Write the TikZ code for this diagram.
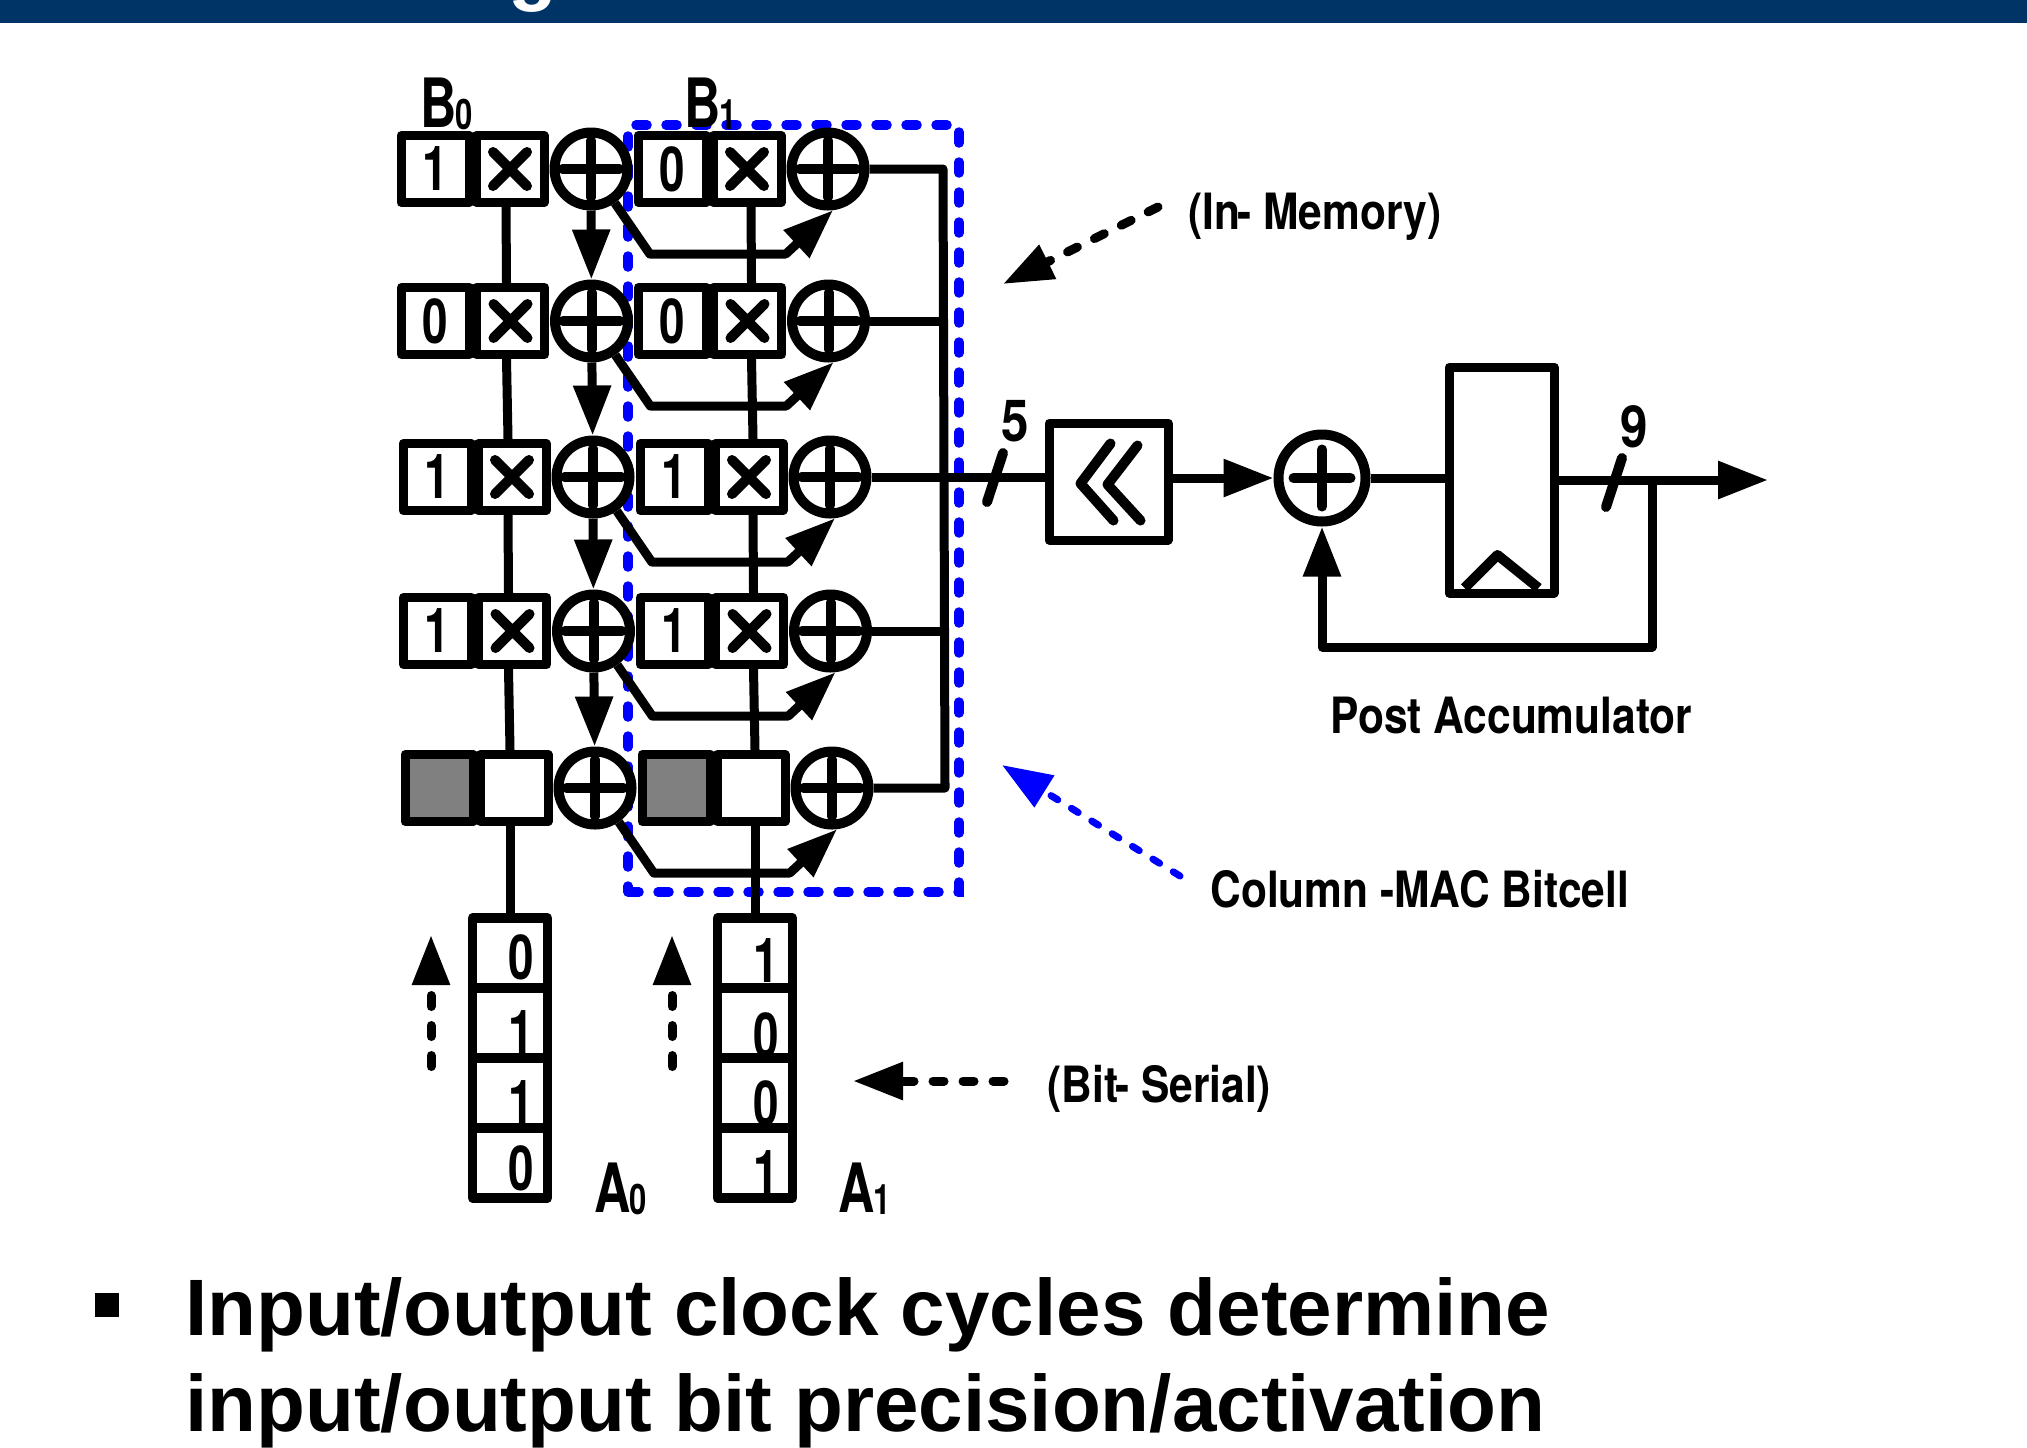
\documentclass[tikz,border=0pt]{standalone}
\usepackage{fontspec}
\usetikzlibrary{positioning}
\usetikzlibrary{arrows.meta}
\setmainfont{Liberation Sans}
\newfontfamily\narrowfont[FakeStretch=0.85]{TeX Gyre Heros}
\newfontfamily\bitfont[FakeStretch=0.74]{TeX Gyre Heros}
\newcommand{\sublabel}[2]{#1\kern-.8pt{\fontsize{21}{21}\selectfont\raisebox{-1pt}{#2}}}
\definecolor{bandblue}{RGB}{0,51,102}

\begin{document}
\begin{tikzpicture}[x=0.5pt,y=-0.5pt]
\tikzstyle{adder}=[circle, draw, fill=white, line width=5pt, minimum size=36.5pt, inner sep=0pt,
  path picture={\draw[line width=5pt, line cap=round] (path picture bounding box.center) +(-28.5,0) -- +(28.5,0) +(0,-28.5) -- +(0,28.5);}]
\tikzstyle{bitbox}=[rectangle, draw, fill=white, line width=4.5pt, line join=round, minimum width=34pt, minimum height=33.5pt, inner sep=0pt, font=\bitfont\bfseries\fontsize{31}{31}\selectfont]
\tikzstyle{crossbox}=[bitbox,
  path picture={\draw[line width=5pt, line cap=round] (path picture bounding box.center) +(-17,-17) -- +(17,17) +(-17,17) -- +(17,-17);}]
\tikzstyle{cell}=[rectangle, draw, line width=4.75pt, line join=round, minimum width=37.5pt, minimum height=35pt, inner sep=0pt, outer sep=0pt]
\tikzstyle{digit}=[inner sep=0pt, font=\bitfont\bfseries\fontsize{31}{31}\selectfont]
\tikzstyle{wordname}=[inner sep=0pt, anchor=base west, font=\bitfont\bfseries\fontsize{34}{34}\selectfont]
\tikzstyle{capt}=[inner sep=0pt, anchor=base west, font=\narrowfont\bfseries\fontsize{25}{25}\selectfont]
\tikzstyle{widthmark}=[inner sep=0pt, font=\narrowfont\bfseries\fontsize{29}{29}\selectfont]
\tikzstyle{bodytext}=[inner sep=0pt, anchor=base west, font=\bfseries\fontsize{40}{40}\selectfont]
\tikzstyle{wire}=[line width=4.5pt, line join=round]
\tikzstyle{slash}=[line width=5pt, line cap=round]
\tikzstyle{connect}=[wire, -{Triangle[length=25pt,width=18pt]}]
\tikzstyle{hint}=[line width=4.5pt, line cap=round, dash pattern=on 5.5pt off 9.5pt, -{Triangle[length=25pt,width=18pt]}]
\tikzstyle{bluehint}=[draw=blue, line width=3.5pt, line cap=round, dash pattern=on 4pt off 8pt, -{Triangle[length=25pt,width=18pt]}, blue]
\tikzstyle{macbox}=[rectangle, draw=blue, line width=4.75pt, line cap=round, dash pattern=on 5.5pt off 9.5pt, minimum width=165.5pt, minimum height=383.5pt]

\useasboundingbox (0,0) rectangle (2027,1447);
\fill[bandblue] (0,0) rectangle (2027,23);
\node[inner sep=0pt, anchor=base, text=white, font=\bfseries\fontsize{40}{40}\selectfont] (heading) at (533,-5) {g};

\node[macbox] (mac) at (793.5,508.5) {};

% first row
\node[bitbox] (p1) at (435,169) {1};
\node[crossbox, right=-1pt of p1] (m1) {};
\node[adder, right=0.5pt of m1] (a1) {};
\node[bitbox, right=0.5pt of a1] (q1) {0};
\node[crossbox, right=-1pt of q1] (n1) {};
\node[adder, right=0.5pt of n1] (t1) {};

\node[bitbox] (p2) at (435.5,321) {0};
\node[crossbox, right=-1pt of p2] (m2) {};
\node[adder, right=0.5pt of m2] (a2) {};
\node[bitbox, right=0.5pt of a2] (q2) {0};
\node[crossbox, right=-1pt of q2] (n2) {};
\node[adder, right=0.5pt of n2] (t2) {};

\node[bitbox] (p3) at (437,477) {1};
\node[crossbox, right=-1pt of p3] (m3) {};
\node[adder, right=0.5pt of m3] (a3) {};
\node[bitbox, right=0.5pt of a3] (q3) {1};
\node[crossbox, right=-1pt of q3] (n3) {};
\node[adder, right=0.5pt of n3] (t3) {};

\node[bitbox] (p4) at (437.5,631) {1};
\node[crossbox, right=-1pt of p4] (m4) {};
\node[adder, right=0.5pt of m4] (a4) {};
\node[bitbox, right=0.5pt of a4] (q4) {1};
\node[crossbox, right=-1pt of q4] (n4) {};
\node[adder, right=0.5pt of n4] (t4) {};

% last row has no bits stored
\node[bitbox, fill=gray] (p5) at (439,788) {};
\node[bitbox, right=-1pt of p5] (m5) {};
\node[adder, right=0.5pt of m5] (a5) {};
\node[bitbox, fill=gray, right=0.5pt of a5] (q5) {};
\node[bitbox, right=-1pt of q5] (n5) {};
\node[adder, right=0.5pt of n5] (t5) {};

\path ([xshift=-2pt]m1.south) edge [wire] ([xshift=-2pt]m2.north);
\path ([xshift=-2pt]m2.south) edge [wire] ([xshift=-2pt]m3.north);
\path ([xshift=-2pt]m3.south) edge [wire] ([xshift=-2pt]m4.north);
\path ([xshift=-2pt]m4.south) edge [wire] ([xshift=-2pt]m5.north);
\path ([xshift=2pt]n1.south) edge [wire] ([xshift=2pt]n2.north);
\path ([xshift=2pt]n2.south) edge [wire] ([xshift=2pt]n3.north);
\path ([xshift=2pt]n3.south) edge [wire] ([xshift=2pt]n4.north);
\path ([xshift=2pt]n4.south) edge [wire] ([xshift=2pt]n5.north);

\path (a1) edge [connect] (a2);
\path (a2) edge [connect] (a3);
\path (a3) edge [connect] (a4);
\path (a4) edge [connect] (a5);

\draw[connect] (a1.-55) -- ++(35,51) -- ++(136,0) -- (t1.-83);
\draw[connect] (a2.-55) -- ++(35,51) -- ++(136,0) -- (t2.-83);
\draw[connect] (a3.-55) -- ++(35,51) -- ++(136,0) -- (t3.-83);
\draw[connect] (a4.-55) -- ++(35,51) -- ++(136,0) -- (t4.-83);
\draw[connect] (a5.-55) -- ++(35,51) -- ++(136,0) -- (t5.-83);

% bus and accumulator
\coordinate (bust) at (943,169);
\coordinate (busb) at (945,788);
\draw[wire] (t1.east) -- (bust) -- (busb) -- (t5.east);
\draw[wire] (t2.east) -- (t2.east -| bust);
\draw[wire] (t4.east) -- (t4.east -| bust);

\node[rectangle, draw, fill=white, line width=4.5pt, line join=round, minimum width=59.5pt, minimum height=58.5pt,
  path picture={\draw[line width=5pt, line cap=round, line join=round] (path picture bounding box.center) +(2,-38) -- +(-28,2) -- +(5,39) +(29,-36) -- +(-1,3) -- +(32,39);}] (shifter) at (1108.5,481.5) {};
\node[adder, minimum size=43.5pt] (sum) at (1322,478) {};
\node[rectangle, draw, fill=white, line width=4.5pt, line join=round, minimum width=52.5pt, minimum height=113pt,
  path picture={\draw[line width=5pt, line join=round] (path picture bounding box.center) +(-37,108) -- +(-4,75) -- +(37,108);}] (reg) at (1501.5,480) {};

\draw[wire] (t3.east) -- (t3.east -| shifter.west);
\draw[connect] (sum -| shifter.east) -- (sum);
\draw[wire] (sum.east) -- (sum.east -| reg.west);
\coordinate (out) at (1768,480);
\draw[connect] (reg.east) -- (out);
\coordinate (fb) at (1652,480);
\coordinate (fbb) at (1652,647);
\draw[connect] (fb) -- (fbb) -| (sum.south);

\coordinate (ta) at (1003,453);
\coordinate (tb) at (987,502);
\draw[slash] (ta) -- (tb);
\coordinate (tc) at (1622,458);
\coordinate (td) at (1606,507);
\draw[slash] (tc) -- (td);
\node[widthmark] (five) at (1015,421) {5};
\node[widthmark] (nine) at (1634,427) {9};

% input words
\node[digit] (b01) at (521,957) {0};
\node[digit] (b02) at (521,1032) {1};
\node[digit] (b03) at (521,1102) {1};
\node[digit] (b04) at (521,1168) {0};
\node[digit] (b11) at (766,960) {1};
\node[digit] (b12) at (766,1035) {0};
\node[digit] (b13) at (766,1103) {0};
\node[digit] (b14) at (766,1172) {1};

\node[cell] (c01) at (510,953) {};
\node[cell, below=0pt of c01] (c02) {};
\node[cell, below=0pt of c02] (c03) {};
\node[cell, below=0pt of c03] (c04) {};
\node[cell] (c11) at (755,953) {};
\node[cell, below=0pt of c11] (c12) {};
\node[cell, below=0pt of c12] (c13) {};
\node[cell, below=0pt of c13] (c14) {};

\path ([xshift=-2pt]m5.south) edge [wire] (c01.north);
\path ([xshift=2pt]n5.south) edge [wire] (c11.north);

\coordinate (u0) at (431,1066.5);
\coordinate (v0) at (431,935);
\draw[hint] (u0) -- (v0);
\coordinate (u1) at (672,1066.5);
\coordinate (v1) at (672,935);
\draw[hint] (u1) -- (v1);
\coordinate (u2) at (1004,1081);
\coordinate (v2) at (853,1081);
\draw[hint] (u2) -- (v2);
\coordinate (u3) at (1158,207);
\coordinate (v3) at (1003,284);
\draw[hint] (u3) -- (v3);
\coordinate (u4) at (1180,876);
\coordinate (v4) at (1002,765);
\draw[bluehint] (u4) -- (v4);

\node[wordname] (lb0) at (420,127) {\sublabel{B}{0}};
\node[wordname] (lb1) at (684,127) {\sublabel{B}{1}};
\node[wordname] (la0) at (594,1212) {\sublabel{A}{0}};
\node[wordname] (la1) at (838,1212) {\sublabel{A}{1}};

\node[capt] (inmem) at (1188,229) {(In\kern-1.5pt- Memory)};
\node[capt] (colmac) at (1210,907) {Column -MAC Bitcell};
\node[capt] (bitser) at (1047,1102) {(Bit\kern-1.5pt- Serial)};
\node[capt] (post) at (1330,733) {Post Accumulator};

\node[rectangle, fill=black, minimum size=12pt, inner sep=0pt] (bullet) at (107,1305) {};
\node[bodytext] (line1) at (185,1335) {Input/output clock cycles determine};
\node[bodytext] (line2) at (185,1431) {input/output bit precision/activation};
\end{tikzpicture}
\end{document}
